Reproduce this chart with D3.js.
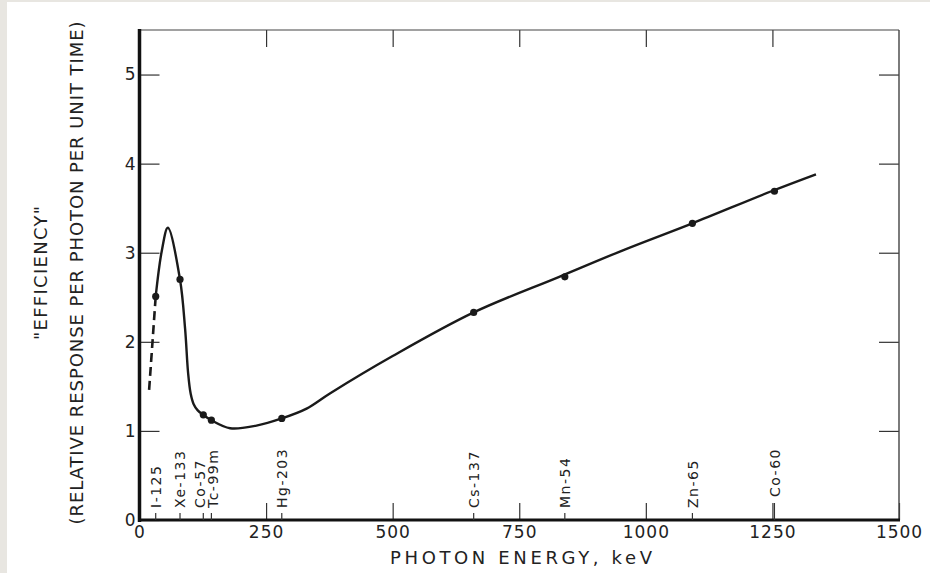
<!DOCTYPE html>
<html>
<head>
<meta charset="utf-8">
<script src="https://cdn.jsdelivr.net/npm/d3@7"></script>
<style>
  html, body { margin: 0; padding: 0; background: #e8e6e1; }
  svg { display: block; }
  text { font-family: "DejaVu Sans", sans-serif; fill: #222; }
</style>
</head>
<body>
<svg id="chart"></svg>
<script>
// isotope markers along the energy axis (keV) and measured efficiency
var isotopes = ["I-125", "Xe-133", "Co-57", "Tc-99m", "Hg-203", "Cs-137", "Mn-54", "Zn-65", "Co-60"];
var isoEnergy = [32, 80, 126, 142, 281, 660, 840, 1092, 1254];
var isoEff = [2.51, 2.70, 1.18, 1.12, 1.14, 2.33, 2.73, 3.33, 3.69];

// smooth response curve
var curveE = [32, 44, 56, 80, 90, 96, 101, 107, 115, 126, 142, 179, 231, 281, 330, 376, 500, 660, 829, 956, 1092, 1248, 1336];
var curveEff = [2.51, 3.02, 3.28, 2.70, 2.15, 1.65, 1.42, 1.30, 1.23, 1.18, 1.12, 1.03, 1.06, 1.14, 1.25, 1.42, 1.84, 2.33, 2.73, 3.03, 3.33, 3.69, 3.88];

// dashed extrapolation at low energy
var dashE = [19, 32];
var dashEff = [1.46, 2.51];

var xTicks = [0, 250, 500, 750, 1000, 1250, 1500];
var yTicks = [0, 1, 2, 3, 4, 5];

var width = 930, height = 573;
var svg = d3.select("#chart").attr("width", width).attr("height", height);

// paper
svg.append("rect").attr("x", 7).attr("y", 2).attr("width", width - 7).attr("height", height - 2).attr("fill", "#fff");

var x = d3.scaleLinear().domain([0, 1500]).range([139.5, 899]);
var y = d3.scaleLinear().domain([0, 5.5]).range([520, 30]);

// top axis, ticks inward
svg.append("g")
    .attr("transform", "translate(0," + y(5.5) + ")")
    .call(d3.axisBottom(x).tickValues([250, 500, 750, 1000, 1250]).tickSize(17).tickFormat(""))
    .call(function (g) { g.select(".domain").remove(); })
    .selectAll("line").attr("stroke", "#333").attr("stroke-width", 1.2);

// right axis, ticks inward
svg.append("g")
    .attr("transform", "translate(" + x(1500) + ",0)")
    .call(d3.axisLeft(y).tickValues([1, 2, 3, 4, 5]).tickSize(20).tickFormat(""))
    .call(function (g) { g.select(".domain").remove(); })
    .selectAll("line").attr("stroke", "#333").attr("stroke-width", 1.2);

// left axis
var yAxis = svg.append("g")
    .attr("transform", "translate(" + x(0) + ",0)")
    .call(d3.axisLeft(y).tickValues(yTicks).tickSizeInner(-20).tickSizeOuter(0).tickPadding(4).tickFormat(d3.format("d")))
    .call(function (g) { g.select(".domain").remove(); });
yAxis.selectAll("line").attr("stroke", "#333").attr("stroke-width", 1.2);
yAxis.selectAll("text").style("font-size", "17px").attr("fill", "#222");

// bottom axis
var xAxis = svg.append("g")
    .attr("transform", "translate(0," + y(0) + ")")
    .call(d3.axisBottom(x).tickValues(xTicks).tickSizeInner(-17).tickSizeOuter(0).tickPadding(6).tickFormat(d3.format("d")))
    .call(function (g) { g.select(".domain").remove(); });
xAxis.selectAll("line").attr("stroke", "#333").attr("stroke-width", 1.2);
xAxis.selectAll("text").style("font-size", "17px").style("letter-spacing", "1px").attr("fill", "#222");

// frame
svg.append("line").attr("x1", x(0)).attr("x2", x(1500)).attr("y1", y(5.5)).attr("y2", y(5.5))
    .attr("stroke", "#444").attr("stroke-width", 1.2);
svg.append("line").attr("x1", x(1500)).attr("x2", x(1500)).attr("y1", y(5.5)).attr("y2", y(0))
    .attr("stroke", "#444").attr("stroke-width", 1.4);
svg.append("line").attr("x1", x(0)).attr("x2", x(0)).attr("y1", y(5.5) - 1).attr("y2", y(0) + 2)
    .attr("stroke", "#111").attr("stroke-width", 3.5);
svg.append("line").attr("x1", x(0) - 1).attr("x2", x(1500) + 1).attr("y1", y(0)).attr("y2", y(0))
    .attr("stroke", "#111").attr("stroke-width", 3);

// isotope ticks and labels
var iso = svg.append("g").selectAll("g")
    .data(isotopes)
    .enter().append("g")
    .attr("transform", function (d, i) { return "translate(" + x(isoEnergy[i]) + "," + y(0) + ")"; });
iso.append("line")
    .attr("y1", 0)
    .attr("y2", function (d) { return d === "Co-60" ? -17 : -7; })
    .attr("stroke", "#333").attr("stroke-width", 1.2);
iso.append("text")
    .attr("transform", function (d) {
        var lift = d === "Co-60" ? 23 : 12;
        var shift = d === "Co-57" ? -3 : (d === "Tc-99m" ? 2 : 0.5);
        return "translate(" + shift + "," + (-lift) + ") rotate(-90)";
    })
    .attr("dy", "0.35em")
    .style("font-size", "14px")
    .style("letter-spacing", "1.5px")
    .text(function (d) { return d; });

// response curve
var line = d3.line()
    .x(function (d) { return x(d[0]); })
    .y(function (d) { return y(d[1]); })
    .curve(d3.curveCatmullRom.alpha(0.5));

svg.append("path")
    .datum(d3.zip(curveE, curveEff))
    .attr("d", line)
    .attr("fill", "none")
    .attr("stroke", "#1a1a1a")
    .attr("stroke-width", 2.4)
    .attr("stroke-linejoin", "round");

svg.append("path")
    .datum(d3.zip(dashE, dashEff))
    .attr("d", d3.line().x(function (d) { return x(d[0]); }).y(function (d) { return y(d[1]); }))
    .attr("fill", "none")
    .attr("stroke", "#1a1a1a")
    .attr("stroke-width", 2.6)
    .attr("stroke-dasharray", "9,5");

svg.append("g").selectAll("circle")
    .data(d3.zip(isoEnergy, isoEff))
    .enter().append("circle")
    .attr("cx", function (d) { return x(d[0]); })
    .attr("cy", function (d) { return y(d[1]); })
    .attr("r", 3.6)
    .attr("fill", "#1a1a1a");

// axis titles
svg.append("text")
    .attr("x", 521).attr("y", 564)
    .attr("text-anchor", "middle")
    .attr("textLength", 262).attr("lengthAdjust", "spacing")
    .style("font-size", "18px")
    .text("PHOTON ENERGY, keV");

svg.append("text")
    .attr("transform", "translate(47,273) rotate(-90)")
    .attr("text-anchor", "middle")
    .attr("textLength", 134).attr("lengthAdjust", "spacing")
    .style("font-size", "18px")
    .text("\"EFFICIENCY\"");

svg.append("text")
    .attr("transform", "translate(83,273) rotate(-90)")
    .attr("text-anchor", "middle")
    .attr("textLength", 503).attr("lengthAdjust", "spacing")
    .style("font-size", "18px")
    .text("(RELATIVE RESPONSE PER PHOTON PER UNIT TIME)");
</script>
</body>
</html>
